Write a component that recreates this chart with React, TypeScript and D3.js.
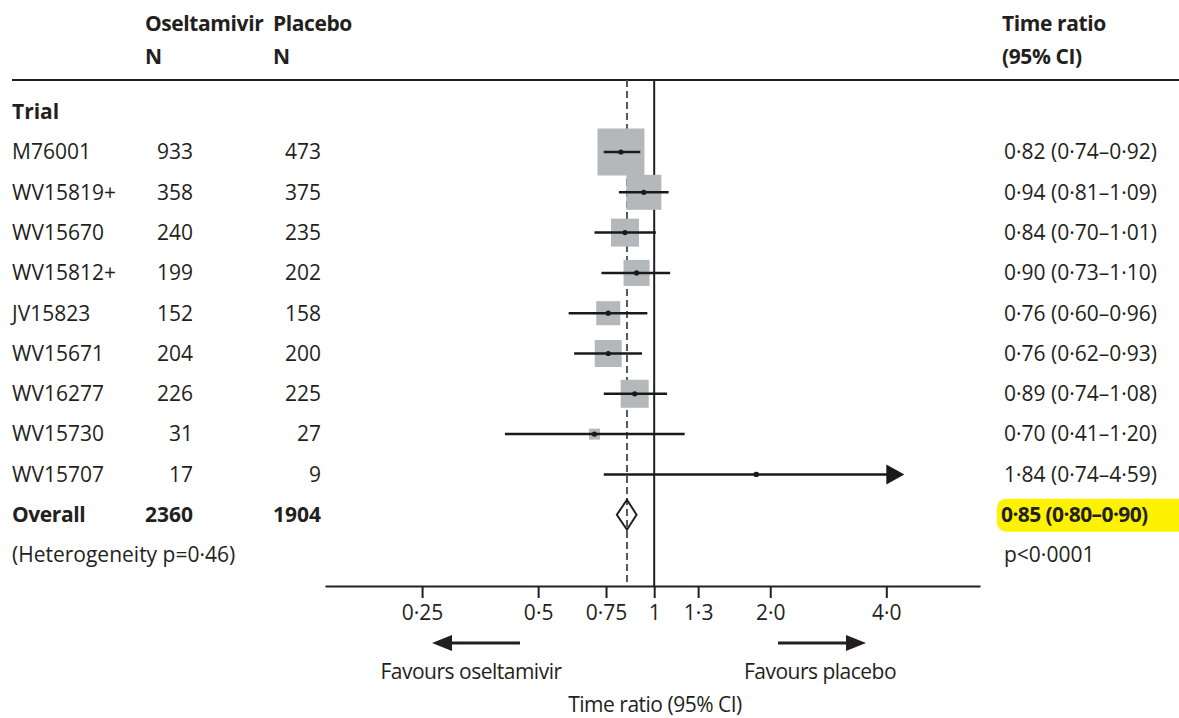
import { useRef, useEffect } from "react";
import * as d3 from "d3";

const trials = ["M76001", "WV15819+", "WV15670", "WV15812+", "JV15823", "WV15671", "WV16277", "WV15730", "WV15707"];
const nOseltamivir = [933, 358, 240, 199, 152, 204, 226, 31, 17];
const nPlacebo = [473, 375, 235, 202, 158, 200, 225, 27, 9];
const ratio = [0.82, 0.94, 0.84, 0.9, 0.76, 0.76, 0.89, 0.7, 1.84];
const lower = [0.74, 0.81, 0.7, 0.73, 0.6, 0.62, 0.74, 0.41, 0.74];
const upper = [0.92, 1.09, 1.01, 1.1, 0.96, 0.93, 1.08, 1.2, 4.59];
const weights = [31.0, 17.2, 11.0, 9.5, 8.1, 10.2, 11.0, 1.7, 0.35];

const overall = { n1: 2360, n2: 1904, ratio: 0.85, lower: 0.8, upper: 0.9 };

const tickValues = [0.25, 0.5, 0.75, 1, 1.3, 2, 4];
const tickLabels = ["0·25", "0·5", "0·75", "1", "1·3", "2·0", "4·0"];

const W = 1179;
const H = 718;
const FONT = "'Open Sans', Lato, sans-serif";
const INK = "#231f20";
const FS = 21;

const fmt = (v: number) => v.toFixed(2).replace(".", "·");

const ForestPlot = () => {
  const svgRef = useRef<SVGSVGElement | null>(null);

  useEffect(() => {
    if (!svgRef.current) return;
    const svg = d3.select(svgRef.current);
    svg.selectAll("*").remove();

    svg.attr("font-family", FONT).attr("fill", INK);

    // log scale for time ratio
    const x = d3.scaleLog().domain([0.14, 7]).range([325, 980]);
    // row positions
    const y = d3.scaleLinear().domain([0, 1]).range([152, 192.3]);
    const size = d3.scaleSqrt().domain([0, d3.max(weights) || 1]).range([0, 47]);

    const axisY = 586;
    const lineTop = 80;

    // header
    const hdr = svg.append("g").attr("font-weight", 700).attr("font-size", FS).attr("letter-spacing", -0.4);
    hdr.append("text").attr("x", 145).attr("y", 24).attr("dy", "0.35em").text("Oseltamivir");
    hdr.append("text").attr("x", 273).attr("y", 24).attr("dy", "0.35em").text("Placebo");
    hdr.append("text").attr("x", 145).attr("y", 57).attr("dy", "0.35em").text("N");
    hdr.append("text").attr("x", 273).attr("y", 57).attr("dy", "0.35em").text("N");
    hdr.append("text").attr("x", 1002).attr("y", 24).attr("dy", "0.35em").text("Time ratio");
    hdr.append("text").attr("x", 1002).attr("y", 57).attr("dy", "0.35em").text("(95% CI)");

    svg.append("line")
      .attr("x1", 12).attr("x2", W).attr("y1", lineTop).attr("y2", lineTop)
      .attr("stroke", INK).attr("stroke-width", 2);

    svg.append("text")
      .attr("x", 12).attr("y", y(-1)).attr("dy", "0.35em")
      .attr("font-size", FS).attr("font-weight", 700).text("Trial");

    // reference lines
    svg.append("line")
      .attr("x1", x(overall.ratio)).attr("x2", x(overall.ratio))
      .attr("y1", lineTop).attr("y2", axisY)
      .attr("stroke", "#4f5b5b").attr("stroke-width", 2).attr("stroke-dasharray", "7,4");
    svg.append("line")
      .attr("x1", x(1)).attr("x2", x(1))
      .attr("y1", lineTop).attr("y2", axisY)
      .attr("stroke", INK).attr("stroke-width", 2);

    // table rows
    const rows = svg.append("g").attr("font-size", FS);
    trials.forEach((t, i) => {
      const yy = y(i);
      rows.append("text").attr("x", 12).attr("y", yy).attr("dy", "0.35em").text(t);
      rows.append("text").attr("x", 193).attr("y", yy).attr("dy", "0.35em")
        .attr("text-anchor", "end").text(nOseltamivir[i]);
      rows.append("text").attr("x", 321).attr("y", yy).attr("dy", "0.35em")
        .attr("text-anchor", "end").text(nPlacebo[i]);
      rows.append("text").attr("x", 1004).attr("y", yy).attr("dy", "0.35em")
        .text(`${fmt(ratio[i])} (${fmt(lower[i])}–${fmt(upper[i])})`);
    });

    // squares, CI lines, dots
    const marks = svg.append("g");
    trials.forEach((t, i) => {
      const yy = y(i);
      const s = size(weights[i]);
      marks.append("rect")
        .attr("x", x(ratio[i]) - s / 2).attr("y", yy - s / 2)
        .attr("width", s).attr("height", s)
        .attr("fill", "#b5b8bb");
    });
    trials.forEach((t, i) => {
      const yy = y(i);
      const clipped = upper[i] > 4;
      const x2 = clipped ? x(upper[i]) - 22 : x(upper[i]);
      marks.append("line")
        .attr("x1", x(lower[i])).attr("x2", x2).attr("y1", yy).attr("y2", yy)
        .attr("stroke", "#1a1a1a").attr("stroke-width", 2.5);
      if (clipped) {
        const tip = x(upper[i]) - 5;
        marks.append("path")
          .attr("d", `M${tip - 18},${yy - 10}L${tip},${yy}L${tip - 18},${yy + 10}Z`)
          .attr("fill", "#1a1a1a");
      }
      marks.append("circle")
        .attr("cx", x(ratio[i])).attr("cy", yy).attr("r", 2.6)
        .attr("fill", "#1a1a1a");
    });

    // overall row
    const yo = y(trials.length);
    const bold = svg.append("g").attr("font-size", FS).attr("font-weight", 700);
    bold.append("text").attr("x", 12).attr("y", yo).attr("dy", "0.35em").attr("letter-spacing", -0.4).text("Overall");
    bold.append("text").attr("x", 193).attr("y", yo).attr("dy", "0.35em")
      .attr("text-anchor", "end").text(overall.n1);
    bold.append("text").attr("x", 321).attr("y", yo).attr("dy", "0.35em")
      .attr("text-anchor", "end").text(overall.n2);
    svg.insert("rect", "g")
      .attr("x", 997).attr("y", yo - 16).attr("width", 190).attr("height", 33)
      .attr("rx", 9).attr("fill", "#fff200");
    bold.append("text").attr("x", 1001).attr("y", yo).attr("dy", "0.35em").attr("letter-spacing", -0.6)
      .text(`${fmt(overall.ratio)} (${fmt(overall.lower)}–${fmt(overall.upper)})`);

    svg.append("path")
      .attr("d", `M${x(overall.lower)},${yo}L${x(overall.ratio)},${yo - 15}L${x(overall.upper)},${yo}L${x(overall.ratio)},${yo + 15}Z`)
      .attr("fill", "none").attr("stroke", INK).attr("stroke-width", 2);

    const yh = y(trials.length + 1);
    svg.append("text").attr("x", 12).attr("y", yh).attr("dy", "0.35em")
      .attr("font-size", FS).text("(Heterogeneity p=0·46)");
    svg.append("text").attr("x", 1004).attr("y", yh).attr("dy", "0.35em")
      .attr("font-size", FS).text("p<0·0001");

    // x axis
    const axis = d3.axisBottom(x)
      .tickValues(tickValues)
      .tickFormat((d, i) => tickLabels[i])
      .tickSize(12)
      .tickSizeOuter(0)
      .tickPadding(7);
    const ga = svg.append("g").attr("transform", `translate(0,${axisY})`).call(axis);
    ga.select(".domain").attr("stroke", INK).attr("stroke-width", 2);
    ga.selectAll(".tick line").attr("stroke", INK).attr("stroke-width", 2);
    ga.selectAll(".tick text")
      .attr("font-family", FONT).attr("font-size", FS).attr("fill", INK);

    // favours arrows
    const ay = 643;
    svg.append("line").attr("x1", 447).attr("x2", 520).attr("y1", ay).attr("y2", ay)
      .attr("stroke", INK).attr("stroke-width", 3);
    svg.append("path").attr("d", `M432,${ay}L452,${ay - 8}L452,${ay + 8}Z`).attr("fill", INK);
    svg.append("line").attr("x1", 778).attr("x2", 850).attr("y1", ay).attr("y2", ay)
      .attr("stroke", INK).attr("stroke-width", 3);
    svg.append("path").attr("d", `M866,${ay}L846,${ay - 8}L846,${ay + 8}Z`).attr("fill", INK);

    const notes = svg.append("g").attr("font-size", FS).attr("letter-spacing", -0.5).attr("text-anchor", "middle");
    notes.append("text").attr("x", 471).attr("y", 672).attr("dy", "0.35em").text("Favours oseltamivir");
    notes.append("text").attr("x", 820).attr("y", 672).attr("dy", "0.35em").text("Favours placebo");
    notes.append("text").attr("x", 655).attr("y", 712).text("Time ratio (95% CI)");
  }, []);

  return (
    <svg
      ref={svgRef}
      width={W}
      height={H}
      style={{ position: "absolute", left: 0, top: 0, background: "#fff" }}
    ></svg>
  );
};

export default function App() {
  return <ForestPlot />;
}
